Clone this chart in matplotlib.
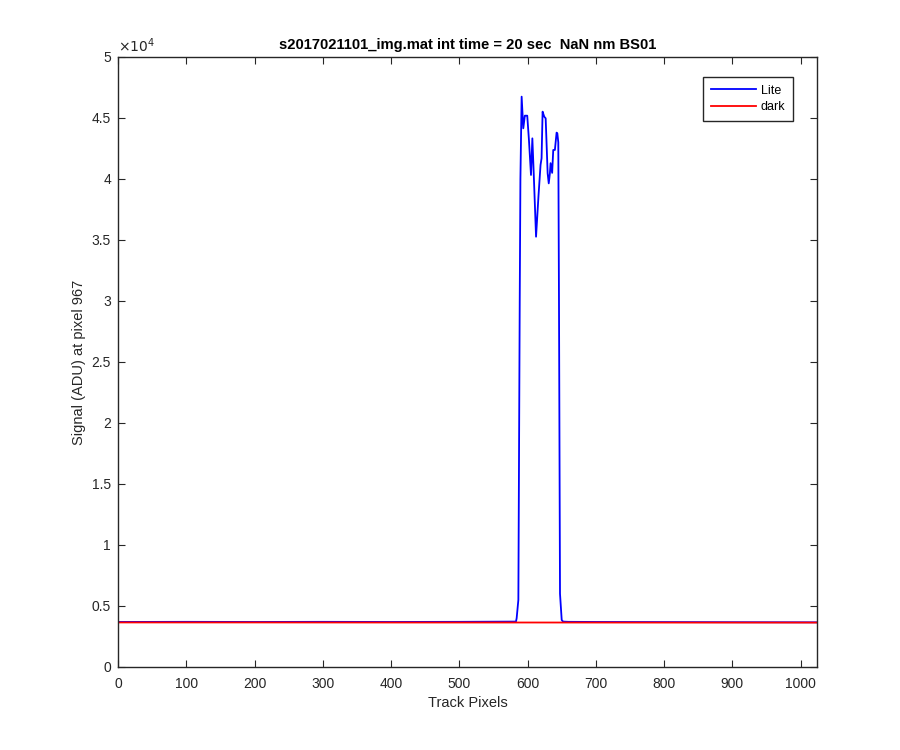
import matplotlib
matplotlib.use("Agg")
import matplotlib.pyplot as plt
from matplotlib.ticker import FuncFormatter, MultipleLocator

plt.rcParams['font.family'] = ['Liberation Sans', 'DejaVu Sans']

# Lite signal: key points (track pixel, ADU)
lite_x = [0, 100, 200, 300, 400, 500, 583, 584, 586.5, 588.5, 589.5, 591.3, 593.7, 596,
          599.5, 602, 605, 607, 609, 612.4, 616, 619, 620.5, 622, 624.4, 626.5, 629.4,
          631, 632.7, 633.7, 636, 637.6, 640, 642.5, 643.6, 645, 646, 647.5, 650, 652,
          660, 700, 800, 900, 1023]
lite_y = [3690, 3700, 3690, 3700, 3690, 3700, 3720, 4000, 5500, 30000, 40000, 46750,
          44150, 45190, 45190, 43200, 40330, 43330, 40470, 35270, 38630, 41150, 41700,
          45520, 45110, 44970, 40460, 39640, 40470, 41300, 40500, 42380, 42380, 43800,
          43740, 43000, 30000, 6000, 3850, 3720, 3700, 3690, 3680, 3670, 3660]

# Dark signal
dark_x = [0, 200, 400, 600, 800, 1023]
dark_y = [3650, 3650, 3645, 3645, 3640, 3640]

title = "s2017021101_img.mat int time = 20 sec  NaN nm BS01"
xlabel = "Track Pixels"
ylabel = "Signal (ADU) at pixel 967"

fig = plt.figure(figsize=(9, 7.5), dpi=100)
ax = fig.add_axes([0.1311, 0.1107, 0.7767, 0.8133])
ax.plot(lite_x, lite_y, color='#0000ff', lw=1.3, label='Lite')
ax.plot(dark_x, dark_y, color='#ff0000', lw=1.3, label='dark')

ax.set_xlim(0, 1024)
ax.set_ylim(0, 50000)
ax.xaxis.set_major_locator(MultipleLocator(100))
ax.yaxis.set_major_locator(MultipleLocator(5000))
ax.yaxis.set_major_formatter(FuncFormatter(lambda v, p: f"{v/1e4:g}"))
ax.tick_params(direction='in', top=True, right=True, length=5, width=0.8,
               labelsize=10, colors='#262626')
ax.tick_params(axis='x', pad=7)
ax.tick_params(axis='y', pad=5)
for s in ax.spines.values():
    s.set_linewidth(1.0)
    s.set_color('#262626')

ax.text(0.0, 1.003, r"$\times10^{4}$", transform=ax.transAxes, fontsize=10,
        ha='left', va='bottom', color='#262626')
ax.set_title(title, fontsize=10.6, fontweight='bold', pad=6)
ax.set_xlabel(xlabel, fontsize=10.5, color='#262626', labelpad=4)
ax.set_ylabel(ylabel, fontsize=10.5, color='#262626')

leg = ax.legend(loc='upper right', bbox_to_anchor=(0.9657, 0.967), borderaxespad=0,
                fancybox=False, edgecolor='#262626', framealpha=1, fontsize=9,
                handlelength=3.6, borderpad=0.6, labelspacing=0.35,
                handletextpad=0.4)
leg.get_frame().set_linewidth(1.0)

fig.savefig("out.png", dpi=100)
